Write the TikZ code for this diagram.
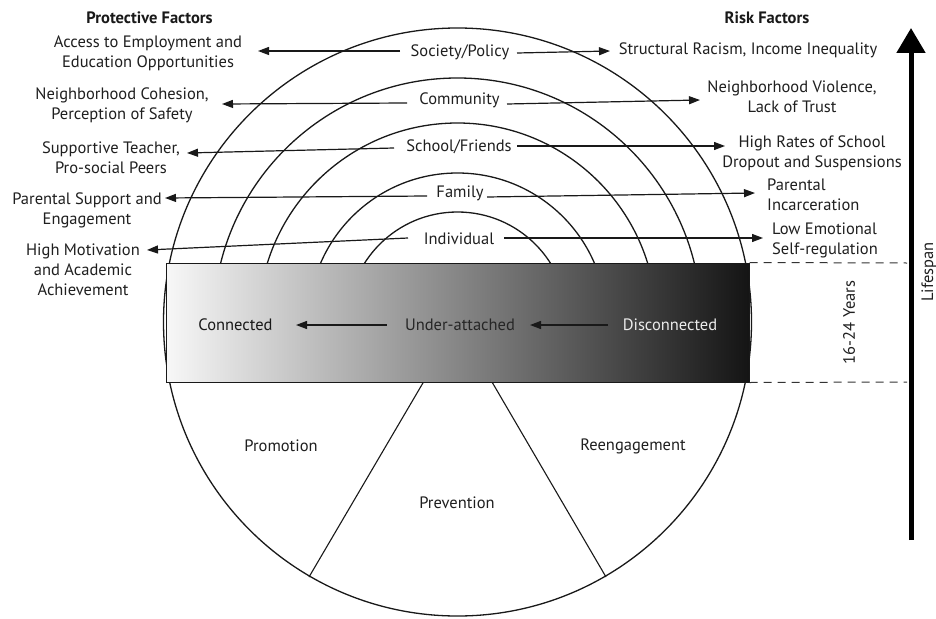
\documentclass[tikz,border=0pt]{standalone}
\usepackage{fontspec}
\setmainfont{PT Sans}
\usetikzlibrary{arrows.meta}
\begin{document}
\begin{tikzpicture}[x=1pt,y=-1pt,
  lbl/.style={font=\fontsize{16.5}{20}\selectfont, text=black!88, inner sep=0pt, align=center},
  ttl/.style={font=\fontsize{16.5}{20}\selectfont\bfseries, text=black!90, inner sep=0pt},
  arr/.style={line width=1.2pt, draw=black!90, -{Triangle[length=11pt,width=8pt]}},
  ring/.style={line width=1.3pt, draw=black!90},
  dsh/.style={line width=1pt, draw=black!80, dash pattern=on 8pt off 6pt}]
\useasboundingbox (0,0) rectangle (936,618);
\fill[white] (0,0) rectangle (936,618);
% rings
\coordinate (c) at (457.5,322);
\draw[ring] (c) circle[radius=294pt];
\begin{scope}
\clip (0,0) rectangle (936,263);
\draw[ring] (c) circle[radius=244pt];
\draw[ring] (c) circle[radius=199pt];
\draw[ring] (c) circle[radius=149pt];
\draw[ring] (c) circle[radius=110pt];
\end{scope}
% sectors
\coordinate (s1a) at (423.5,382); \coordinate (s1b) at (309,577);
\coordinate (s2a) at (492,382);   \coordinate (s2b) at (606,577);
\draw[ring, line width=1.1pt] (s1a) -- (s1b);
\draw[ring, line width=1.1pt] (s2a) -- (s2b);
% band
\node[draw=black!90, line width=1pt, minimum width=583pt, minimum height=119pt, inner sep=0pt,
      left color=white!97!black, right color=black!92] (band) at (457.5,322.5) {};
% titles
\node[ttl] (pf) at (149.5,18) {Protective Factors};
\node[ttl] (rf) at (767,18) {Risk Factors};
% level labels
\node[lbl] (soc) at (460,52) {Society/Policy};
\node[lbl] (com) at (459.5,100) {Community};
\node[lbl] (sch) at (459,147) {School/Friends};
\node[lbl] (fam) at (460,193) {Family};
\node[lbl] (ind) at (459,239) {Individual};
% protective
\node[lbl] (p1) at (148,53) {Access to Employment and\\Education Opportunities};
\node[lbl] (p2) at (122,105) {Neighborhood Cohesion,\\Perception of Safety};
\node[lbl] (p3) at (111,158) {Supportive Teacher,\\Pro-social Peers};
\node[lbl] (p4) at (87,210) {Parental Support and\\Engagement};
\node[lbl] (p5) at (83,270) {High Motivation\\and Academic\\Achievement};
% risk
\node[lbl] (r1) at (748,50) {Structural Racism, Income Inequality};
\node[lbl] (r2) at (792,97) {Neighborhood Violence,\\Lack of Trust};
\node[lbl] (r3) at (812,153) {High Rates of School\\Dropout and Suspensions};
\node[lbl, align=left, anchor=west] (r4) at (767,195) {Parental\\Incarceration};
\node[lbl, align=left, anchor=west] (r5) at (772,240) {Low Emotional\\Self-regulation};
% arrow ends
\coordinate (a1l) at (400,51);  \coordinate (t1l) at (258,51);
\coordinate (a1r) at (517,53);  \coordinate (t1r) at (610,51);
\coordinate (a2l) at (407,103); \coordinate (t2l) at (222,104);
\coordinate (a2r) at (507,104); \coordinate (t2r) at (700,100);
\coordinate (a3l) at (394,148); \coordinate (t3l) at (187,153);
\coordinate (a3r) at (517,146); \coordinate (t3r) at (725,146);
\coordinate (a4l) at (427,196); \coordinate (t4l) at (165,198);
\coordinate (a4r) at (487,197); \coordinate (t4r) at (755,193);
\coordinate (a5l) at (408,238); \coordinate (t5l) at (147,250);
\coordinate (a5r) at (504,238); \coordinate (t5r) at (763,238);
\foreach \i in {1,...,5}{
  \draw[arr] (a\i l) -- (t\i l);
  \draw[arr] (a\i r) -- (t\i r);
}
% band labels
\node[lbl, text=black!90] (con) at (235.5,325) {Connected};
\node[lbl, text=black!85] (und) at (460,325) {Under-attached};
\node[lbl, text=black!8] (dis) at (670,325) {Disconnected};
\coordinate (m1s) at (386.5,325); \coordinate (m1t) at (296,325);
\coordinate (m2s) at (608,325);   \coordinate (m2t) at (530,325);
\draw[arr, line width=1.3pt] (m1s) -- (m1t);
\draw[arr, line width=1.3pt] (m2s) -- (m2t);
% sectors labels
\node[lbl] (pro) at (281,446) {Promotion};
\node[lbl] (pre) at (457,503) {Prevention};
\node[lbl] (ree) at (633,446) {Reengagement};
% dashed
\coordinate (d1) at (907,263); \coordinate (d2) at (907,382);
\draw[dsh] (band.north east) -- (d1);
\draw[dsh] (band.south east) -- (d2);
\node[lbl, rotate=90] (yrs) at (849,322.5) {16-24 Years};
% lifespan
\coordinate (ls0) at (911,540); \coordinate (ls1) at (911,28);
\draw[line width=5pt, draw=black, -{Triangle[length=25pt,width=28pt]}] (ls0) -- (ls1);
\node[lbl, rotate=90] (life) at (929,272) {Lifespan};
\end{tikzpicture}
\end{document}
